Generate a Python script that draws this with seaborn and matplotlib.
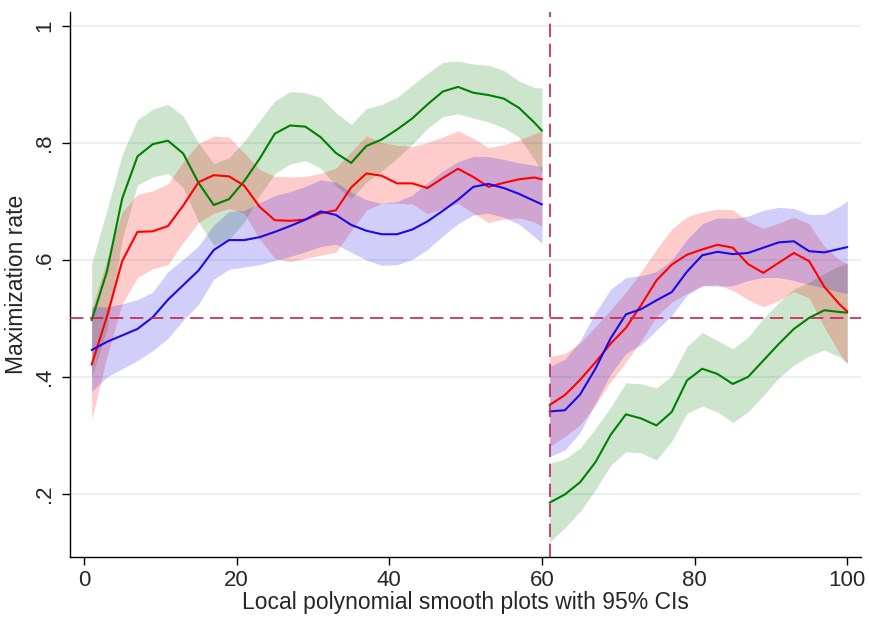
import numpy as np
import pandas as pd
import matplotlib
matplotlib.use("Agg")
import matplotlib.pyplot as plt
import seaborn as sns

# x positions of the local polynomial estimates, before and after the break at 61
x_left = [1, 3, 5, 7, 9, 11, 13, 15, 17, 19, 21, 23, 25, 27, 29, 31, 33, 35, 37, 39,
          41, 43, 45, 47, 49, 51, 53, 55, 57, 59, 60]
x_right = [61, 63, 65, 67, 69, 71, 73, 75, 77, 79, 81, 83, 85, 87, 89, 91, 93, 95, 97, 99, 100]

# green series
green_left = [0.497, 0.580, 0.705, 0.777, 0.798, 0.804, 0.782, 0.732, 0.694, 0.704, 0.735,
              0.773, 0.816, 0.830, 0.828, 0.810, 0.783, 0.766, 0.795, 0.806, 0.823, 0.842,
              0.866, 0.888, 0.896, 0.886, 0.882, 0.876, 0.860, 0.835, 0.821]
green_left_hi = [0.594, 0.685, 0.780, 0.840, 0.858, 0.866, 0.846, 0.800, 0.765, 0.775, 0.803,
                 0.838, 0.872, 0.888, 0.886, 0.878, 0.852, 0.832, 0.859, 0.866, 0.878, 0.899,
                 0.919, 0.938, 0.940, 0.935, 0.933, 0.924, 0.906, 0.895, 0.894]
green_left_lo = [0.400, 0.480, 0.635, 0.728, 0.742, 0.748, 0.724, 0.665, 0.625, 0.635, 0.665,
                 0.710, 0.748, 0.764, 0.770, 0.757, 0.727, 0.705, 0.733, 0.752, 0.774, 0.798,
                 0.825, 0.845, 0.850, 0.843, 0.836, 0.826, 0.810, 0.772, 0.750]
green_right = [0.185, 0.199, 0.220, 0.254, 0.301, 0.336, 0.329, 0.317, 0.340, 0.394, 0.414,
               0.405, 0.388, 0.400, 0.428, 0.456, 0.482, 0.501, 0.514, 0.511, 0.510]
green_right_hi = [0.252, 0.260, 0.278, 0.312, 0.348, 0.390, 0.388, 0.381, 0.402, 0.452, 0.476,
                  0.462, 0.448, 0.468, 0.500, 0.527, 0.550, 0.562, 0.577, 0.590, 0.594]
green_right_lo = [0.118, 0.142, 0.170, 0.207, 0.249, 0.272, 0.270, 0.258, 0.290, 0.338, 0.350,
                  0.340, 0.322, 0.340, 0.368, 0.398, 0.420, 0.436, 0.446, 0.434, 0.423]

# red series
red_left = [0.421, 0.503, 0.598, 0.648, 0.649, 0.658, 0.693, 0.733, 0.745, 0.743, 0.727,
            0.691, 0.668, 0.667, 0.669, 0.680, 0.685, 0.724, 0.748, 0.744, 0.731, 0.731,
            0.723, 0.740, 0.756, 0.742, 0.725, 0.732, 0.738, 0.741, 0.738]
red_left_hi = [0.516, 0.600, 0.682, 0.712, 0.718, 0.730, 0.768, 0.799, 0.812, 0.810, 0.783,
               0.755, 0.743, 0.742, 0.743, 0.748, 0.757, 0.785, 0.812, 0.801, 0.796, 0.794,
               0.801, 0.810, 0.821, 0.808, 0.792, 0.797, 0.805, 0.816, 0.821]
red_left_lo = [0.326, 0.435, 0.525, 0.570, 0.585, 0.592, 0.630, 0.664, 0.680, 0.688, 0.680,
               0.636, 0.603, 0.597, 0.603, 0.608, 0.613, 0.650, 0.685, 0.697, 0.697, 0.696,
               0.679, 0.688, 0.697, 0.680, 0.664, 0.670, 0.672, 0.665, 0.657]
red_right = [0.352, 0.369, 0.395, 0.425, 0.457, 0.484, 0.523, 0.565, 0.592, 0.609, 0.618,
             0.626, 0.621, 0.593, 0.578, 0.595, 0.612, 0.598, 0.554, 0.524, 0.512]
red_right_hi = [0.435, 0.440, 0.458, 0.486, 0.515, 0.545, 0.580, 0.618, 0.653, 0.674, 0.682,
                0.687, 0.686, 0.666, 0.654, 0.663, 0.673, 0.662, 0.623, 0.600, 0.594]
red_right_lo = [0.281, 0.298, 0.318, 0.352, 0.392, 0.425, 0.462, 0.503, 0.528, 0.543, 0.556,
                0.558, 0.548, 0.532, 0.520, 0.530, 0.546, 0.535, 0.485, 0.440, 0.423]

# blue series
blue_left = [0.446, 0.460, 0.471, 0.482, 0.502, 0.532, 0.557, 0.582, 0.617, 0.634, 0.634,
             0.639, 0.648, 0.658, 0.669, 0.683, 0.677, 0.660, 0.650, 0.644, 0.644, 0.652,
             0.666, 0.684, 0.703, 0.725, 0.730, 0.723, 0.713, 0.701, 0.695]
blue_left_hi = [0.520, 0.520, 0.525, 0.532, 0.545, 0.580, 0.601, 0.624, 0.660, 0.683, 0.685,
                0.698, 0.710, 0.717, 0.726, 0.737, 0.733, 0.716, 0.703, 0.697, 0.700, 0.711,
                0.732, 0.752, 0.768, 0.777, 0.777, 0.772, 0.766, 0.762, 0.759]
blue_left_lo = [0.375, 0.400, 0.414, 0.428, 0.445, 0.466, 0.497, 0.524, 0.567, 0.584, 0.588,
                0.592, 0.599, 0.606, 0.614, 0.623, 0.627, 0.613, 0.600, 0.591, 0.592, 0.601,
                0.618, 0.641, 0.662, 0.677, 0.680, 0.673, 0.661, 0.640, 0.628]
blue_right = [0.341, 0.343, 0.370, 0.414, 0.466, 0.507, 0.516, 0.531, 0.545, 0.580, 0.608,
              0.614, 0.610, 0.612, 0.621, 0.630, 0.632, 0.615, 0.613, 0.619, 0.622]
blue_right_hi = [0.418, 0.430, 0.462, 0.510, 0.550, 0.570, 0.573, 0.580, 0.600, 0.635, 0.662,
                 0.672, 0.671, 0.675, 0.685, 0.690, 0.688, 0.678, 0.678, 0.692, 0.701]
blue_right_lo = [0.264, 0.275, 0.305, 0.355, 0.405, 0.440, 0.455, 0.480, 0.505, 0.540, 0.556,
                 0.555, 0.556, 0.565, 0.570, 0.570, 0.565, 0.558, 0.552, 0.545, 0.543]

cutoff = 61
chance = 0.5

series = [
    ("green", "#008000", green_left, green_left_lo, green_left_hi,
     green_right, green_right_lo, green_right_hi),
    ("red", "#ff0000", red_left, red_left_lo, red_left_hi,
     red_right, red_right_lo, red_right_hi),
    ("blue", "#1a0ae6", blue_left, blue_left_lo, blue_left_hi,
     blue_right, blue_right_lo, blue_right_hi),
]

sns.set_style("white")
plt.rcParams["font.family"] = ["Liberation Sans", "DejaVu Sans"]

fig = plt.figure(figsize=(8.69, 6.17), dpi=100)
ax = fig.add_axes([0.0806, 0.0972, 0.9102, 0.8833])

# confidence bands first, then the smooth lines on top
for name, col, yl, lol, hil, yr, lor, hir in series:
    ax.fill_between(x_left, lol, hil, color=col, alpha=0.2, lw=0)
    ax.fill_between(x_right, lor, hir, color=col, alpha=0.2, lw=0)

for name, col, yl, lol, hil, yr, lor, hir in series:
    df_l = pd.DataFrame({"x": x_left, "y": yl})
    df_r = pd.DataFrame({"x": x_right, "y": yr})
    sns.lineplot(data=df_l, x="x", y="y", color=col, lw=1.5, ax=ax)
    sns.lineplot(data=df_r, x="x", y="y", color=col, lw=1.5, ax=ax)

ax.axhline(chance, color="#c8234f", lw=1.2, ls=(0, (8, 4)), zorder=3)
ax.axvline(cutoff, color="#c8234f", lw=1.2, ls=(0, (8, 4)), zorder=3)

ax.set_xlim(-1.83, 101.8)
ax.set_ylim(0.092, 1.024)
ax.set_xticks([0, 20, 40, 60, 80, 100])
ax.set_yticks([0.2, 0.4, 0.6, 0.8, 1.0])
ax.set_yticklabels([".2", ".4", ".6", ".8", "1"], rotation=90, va="center")
ax.yaxis.grid(True, color="#e8f0f0", lw=1.5)
ax.set_axisbelow(True)

for s in ["top", "right"]:
    ax.spines[s].set_visible(False)
for s in ["left", "bottom"]:
    ax.spines[s].set_color("black")
    ax.spines[s].set_linewidth(1.0)

ax.tick_params(axis="both", direction="out", length=6, width=1, color="black",
               labelsize=16, pad=3, left=True, bottom=True)
ax.tick_params(axis="y", pad=5)
ax.set_xlabel("Local polynomial smooth plots with 95% CIs", fontsize=16.5, labelpad=0)
ax.set_ylabel("Maximization rate", fontsize=16.5, labelpad=4)

fig.savefig("out.png", dpi=100)
